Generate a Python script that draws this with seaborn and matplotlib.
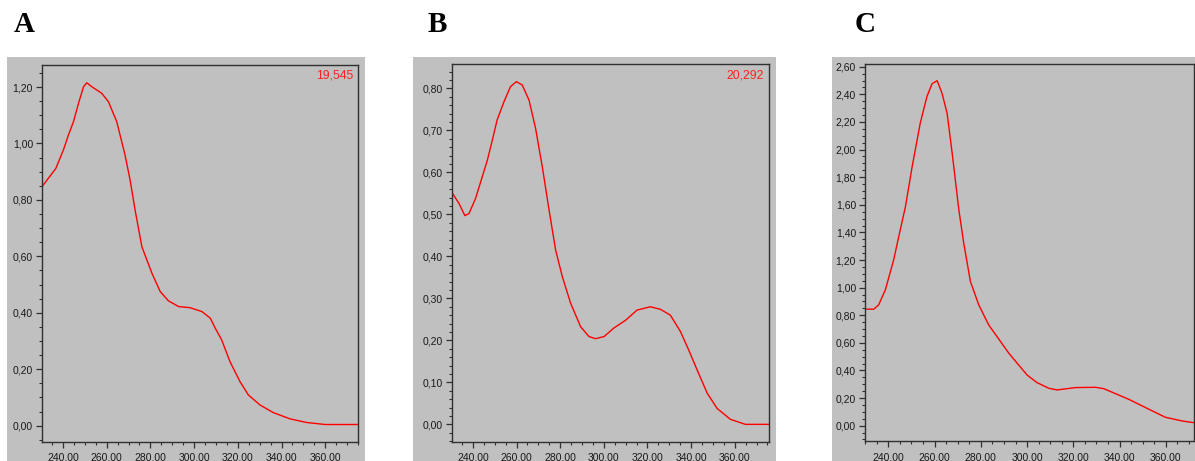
import matplotlib
matplotlib.use("Agg")
import matplotlib.pyplot as plt
from matplotlib.ticker import MultipleLocator, FuncFormatter
import seaborn as sns
import numpy as np

# ---- data (wavelength nm, absorbance) ----
wl_A = [230.2, 236.7, 240.2, 242.5, 244.8, 247.1, 249.4, 250.9, 253.2, 257.7, 260.8, 264.6,
        268.4, 270.7, 273.0, 276.1, 280.7, 284.5, 288.3, 292.9, 298.2, 303.6, 307.4, 309.7,
        312.6, 316.4, 321.0, 324.8, 330.2, 336.3, 343.9, 351.6, 360.0, 375.2]
abs_A = [0.845, 0.911, 0.977, 1.030, 1.077, 1.142, 1.201, 1.215, 1.201, 1.178, 1.148, 1.077,
         0.959, 0.871, 0.764, 0.634, 0.540, 0.475, 0.442, 0.422, 0.418, 0.404, 0.381, 0.345,
         0.304, 0.227, 0.156, 0.109, 0.073, 0.046, 0.024, 0.011, 0.004, 0.004]

wl_B = [230.5, 233.6, 236.3, 238.2, 241.2, 244.3, 246.6, 248.9, 251.1, 254.2, 257.2, 259.9,
        262.6, 265.7, 268.7, 271.8, 274.9, 277.9, 281.0, 284.8, 289.4, 293.2, 296.2, 300.1,
        304.5, 310.0, 315.2, 321.3, 325.9, 330.5, 335.1, 338.9, 342.8, 347.4, 351.9, 358.0,
        364.9, 375.6]
abs_B = [0.551, 0.526, 0.497, 0.502, 0.538, 0.590, 0.629, 0.677, 0.725, 0.768, 0.804, 0.816,
         0.808, 0.772, 0.705, 0.613, 0.510, 0.415, 0.351, 0.288, 0.232, 0.209, 0.204, 0.209,
         0.229, 0.248, 0.272, 0.280, 0.274, 0.260, 0.221, 0.177, 0.129, 0.074, 0.038, 0.012,
         0.000, 0.000]

wl_C = [229.8, 233.7, 235.8, 238.7, 242.3, 244.5, 247.4, 250.3, 253.8, 256.7, 258.9, 261.1,
        263.2, 265.4, 267.6, 270.5, 272.6, 275.5, 279.1, 283.4, 292.1, 300.0, 304.3, 309.4,
        313.0, 320.9, 329.6, 333.2, 344.0, 352.7, 359.8, 367.1, 372.1]
abs_C = [0.844, 0.844, 0.875, 0.984, 1.201, 1.370, 1.587, 1.877, 2.192, 2.385, 2.477, 2.499,
         2.409, 2.264, 1.975, 1.563, 1.322, 1.044, 0.875, 0.730, 0.525, 0.367, 0.312, 0.271,
         0.259, 0.276, 0.278, 0.268, 0.191, 0.119, 0.061, 0.034, 0.022]

panel_labels = ["A", "B", "C"]
annotations = ["19,545", "20,292", None]
x_ticks = [240, 260, 280, 300, 320, 340, 360]

sns.set_style("white")
plt.rcParams['font.family'] = ['Liberation Sans', 'DejaVu Sans']

W, H = 1195, 461
fig = plt.figure(figsize=(W / 100, H / 100), dpi=100)

def fx(px):
    return px / W

def fy(py):
    return 1 - py / H

panels = [
    dict(wl=wl_A, ab=abs_A, box=(42, 65, 358, 442), bg=(7, 57, 365), xlim=(230.4, 375.0),
         ylim=(-0.058, 1.278), ymaj=0.2, ymin=0.05, xsep='.', lab_x=14, ann_x=353),
    dict(wl=wl_B, ab=abs_B, box=(452, 64, 769, 442), bg=(413, 57, 776), xlim=(230.4, 375.7),
         ylim=(-0.042, 0.858), ymaj=0.1, ymin=0.02, xsep='.', lab_x=428, ann_x=764),
    dict(wl=wl_C, ab=abs_C, box=(865, 64, 1194, 441), bg=(832, 57, 1195), xlim=(229.9, 372.2),
         ylim=(-0.111, 2.62), ymaj=0.2, ymin=0.05, xsep=',', lab_x=855, ann_x=None),
]

edge = '#303030'
for i, p in enumerate(panels):
    # grey background panel (separate axes underneath)
    bx0, by0, bx1 = p['bg']
    bgax = fig.add_axes([fx(bx0), 0, fx(bx1) - fx(bx0), fy(by0)], zorder=0)
    bgax.set_facecolor('#c0c0c0')
    bgax.set_xticks([])
    bgax.set_yticks([])
    for s in bgax.spines.values():
        s.set_visible(False)

    l, t, r, b = p['box']
    ax = fig.add_axes([fx(l), fy(b), fx(r) - fx(l), fy(t) - fy(b)], zorder=1)
    ax.set_facecolor('#c0c0c0')
    sns.lineplot(x=p['wl'], y=p['ab'], ax=ax, color='#ff0000', linewidth=1.0,
                 estimator=None, sort=False)
    ax.set_xlim(*p['xlim'])
    ax.set_ylim(*p['ylim'])
    ax.set_xticks(x_ticks)
    ax.xaxis.set_minor_locator(MultipleLocator(5))
    ax.yaxis.set_major_locator(MultipleLocator(p['ymaj']))
    ax.yaxis.set_minor_locator(MultipleLocator(p['ymin']))
    sep = p['xsep']
    ax.xaxis.set_major_formatter(FuncFormatter(lambda v, pos, s=sep: f"{v:.2f}".replace('.', s)))
    ax.yaxis.set_major_formatter(FuncFormatter(lambda v, pos: f"{abs(v) if abs(v) < 1e-9 else v:.2f}".replace('.', ',')))
    for s in ax.spines.values():
        s.set_visible(True)
        s.set_color(edge)
        s.set_linewidth(1.0)
    ax.tick_params(axis='both', which='major', direction='out', length=4, width=0.9,
                   color=edge, labelsize=7.5, labelcolor='#1a1a1a')
    ax.tick_params(axis='x', which='major', pad=4)
    ax.tick_params(axis='y', which='major', pad=2.5)
    ax.tick_params(axis='both', which='minor', direction='out', length=2.5, width=0.8, color=edge)
    ax.tick_params(left=True, bottom=True, which='both')
    ax.set_xlabel('')
    ax.set_ylabel('')
    if p['ann_x'] is not None:
        fig.text(fx(p['ann_x']), fy(76), annotations[i], color='#ff2020', fontsize=8.8,
                 ha='right', va='center', zorder=5)
    fig.text(fx(p['lab_x']), fy(24), panel_labels[i], family=['Liberation Serif'],
             fontweight='bold', fontsize=21, ha='left', va='center', color='black')

fig.savefig('out.png', dpi=100, facecolor='white')
